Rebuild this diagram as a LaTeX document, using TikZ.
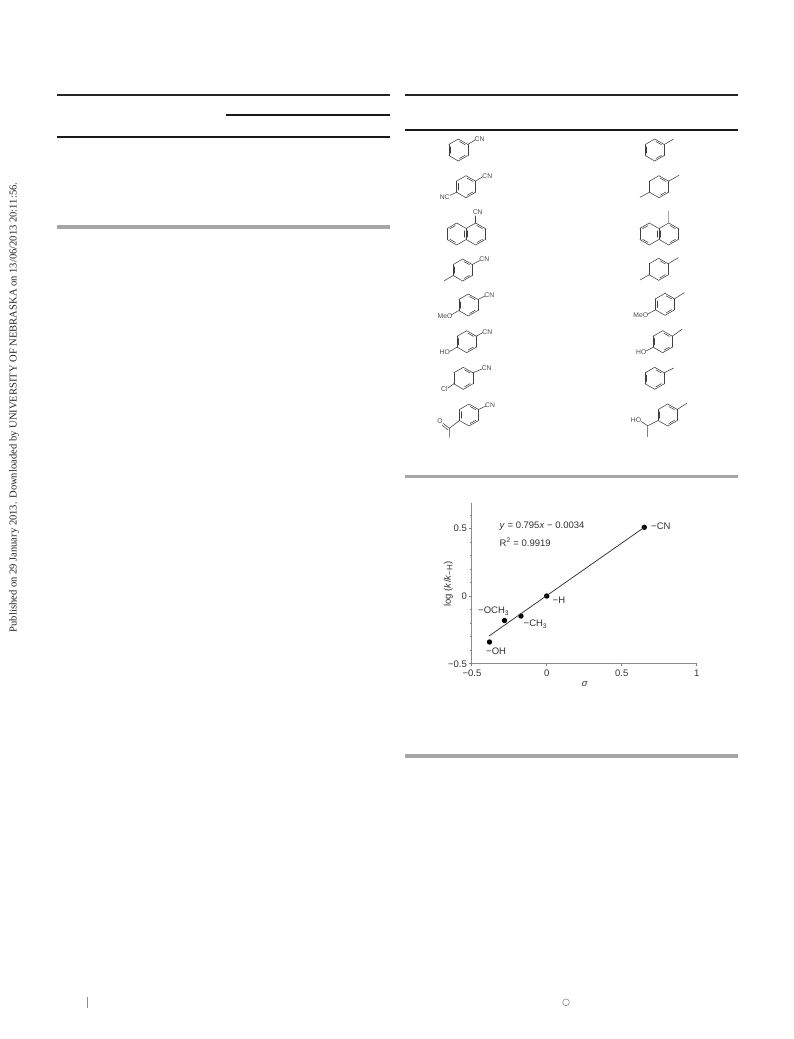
\documentclass[tikz,border=0pt]{standalone}
\usepackage{fontspec}
\setmainfont{Liberation Serif}
\setsansfont{Liberation Sans}
\tikzset{
  x=1pt,y=-1pt,
  rulethick/.style={line width=1.7pt,color=black!85},
  rulethin/.style={line width=2pt,color=black!90},
  rulegray/.style={line width=3.6pt,color=black!35},
  bond/.style={line width=0.55pt,color=black!75,line cap=round},
  chem/.style={font=\sffamily\fontsize{6.8}{7}\selectfont,color=black!70,inner sep=0pt},
  axisline/.style={line width=0.9pt,color=black!45},
  tickline/.style={line width=0.6pt,color=black!50},
  chartlabel/.style={font=\sffamily\fontsize{9.5}{10}\selectfont,color=black!80,inner sep=0pt},
  dot/.style={circle,fill=black,inner sep=0pt,minimum size=5.4pt},
}
% hexagon, pointy top, with the listed edges doubled
\newcommand{\hexring}[3]{%
  \foreach \a in {30,90,...,330}{
    \draw[bond] ({#1+11*cos(\a)},{#2-11*sin(\a)}) -- ({#1+11*cos(\a+60)},{#2-11*sin(\a+60)});
  }
  \foreach \a in {#3}{
    \draw[bond] ({#1+8.6*cos(\a+8)},{#2-8.6*sin(\a+8)}) -- ({#1+8.6*cos(\a+52)},{#2-8.6*sin(\a+52)});
  }
}
\begin{document}
\begin{tikzpicture}
\useasboundingbox (0,0) rectangle (793,1039);
\fill[white] (0,0) rectangle (793,1039);
% table rules
\draw[rulethick] (57,95) -- (390,95);
\draw[rulethin] (226,115.3) -- (390,115.3);
\draw[rulethin] (57,137.3) -- (390,137.3);
\draw[rulegray] (57,226.7) -- (390,226.7);
\draw[rulethick] (405,95) -- (738,95);
\draw[rulethin] (405,130) -- (738,130);
\draw[rulegray] (405,476.3) -- (738,476.3);
\draw[rulegray] (405,756) -- (738,756);
% margin text
\node[rotate=90,inner sep=0pt,font=\fontsize{10.58}{12}\selectfont,color=black!85] (margin) at (14,407.5)
  {Published on 29 January 2013. Downloaded by UNIVERSITY OF NEBRASKA on 13/06/2013 20:11:56.};
% footer marks
\draw[line width=0.8pt,color=black!45] (87.7,996.7) -- (87.7,1007.7);
\draw[line width=0.5pt,color=black!50] (566,1002.3) circle (3.4);
% left column
\hexring{458.3}{150}{30,150,270}
\draw[bond] (467.8,144.5) -- (475,140);
\node[chem] (c1) at (479.5,139.5) {CN};
\hexring{466}{186.7}{30,150,270}
\draw[bond] (475.5,181.2) -- (482.7,176.7);
\draw[bond] (456.5,192.2) -- (450,195.5);
\node[chem] (c2) at (487.3,175.7) {CN};
\node[chem] (c2b) at (444.7,197) {NC};
\hexring{456.7}{234}{90,210,330}
\hexring{475.7}{234}{30,150,270}
\draw[bond] (475.7,223) -- (475.7,216);
\node[chem] (c3) at (477.7,212.3) {CN};
\hexring{462.7}{270}{30,150,270}
\draw[bond] (472.2,264.5) -- (480,260.5);
\draw[bond] (453.2,275.5) -- (444.3,280.7);
\node[chem] (c4) at (484.3,258.7) {CN};
\hexring{468.3}{305}{30,150,270}
\draw[bond] (477.8,299.5) -- (485,296);
\draw[bond] (458.8,310.5) -- (451,315);
\node[chem] (c5) at (489.3,294.7) {CN};
\node[chem] (c5b) at (445,315.7) {MeO};
\hexring{466.7}{341.7}{30,150,270}
\draw[bond] (476.2,336.2) -- (483,332.5);
\draw[bond] (457.2,347.2) -- (449.5,351.5);
\node[chem] (c6) at (487.3,331.7) {CN};
\node[chem] (c6b) at (444.7,352.3) {HO};
\hexring{463.3}{378.3}{30,270}
\draw[bond] (472.8,372.8) -- (482,369);
\draw[bond] (453.8,383.8) -- (448,388);
\node[chem] (c7) at (486.7,368) {CN};
\node[chem] (c7b) at (444.3,389.3) {Cl};
\hexring{469}{415}{30,150,270}
\draw[bond] (478.5,409.5) -- (486,406);
\draw[bond] (459.5,420.5) -- (449.3,428.3) -- (449.3,437.3);
\draw[bond] (449.3,428.3) -- (443,423.3);
\draw[bond] (448,430) -- (442,425);
\node[chem] (c8) at (490,405) {CN};
\node[chem] (c8b) at (440,421.3) {O};
% right column
\hexring{654.7}{150}{30,150,270}
\draw[bond] (664.2,144.5) -- (673.3,139.3);
\hexring{659}{186.7}{30,270}
\draw[bond] (668.5,181.2) -- (679,175.3);
\draw[bond] (649.5,192.2) -- (640,197.3);
\hexring{649.3}{234}{90,210,330}
\hexring{668.7}{234}{30,150,270}
\draw[bond,color=black!35] (668.7,223) -- (668.7,211);
\hexring{658.7}{269.3}{30,270}
\draw[bond] (668.2,263.8) -- (678.3,257.7);
\draw[bond] (649.2,274.8) -- (640,280);
\hexring{665}{304.3}{30,150,270}
\draw[bond] (674.5,298.8) -- (684.3,292.7);
\draw[bond] (655.5,309.8) -- (647,314.5);
\node[chem] (d5) at (640.7,315.3) {MeO};
\hexring{662.7}{341.7}{30,150,270}
\draw[bond] (672.2,336.2) -- (682,329.3);
\draw[bond] (653.2,347.2) -- (646,351);
\node[chem] (d6) at (641.3,352) {HO};
\hexring{654.7}{378.3}{30,150,270}
\draw[bond] (664.2,372.8) -- (673.7,368);
\hexring{667.7}{415}{30,150,270}
\draw[bond] (677.2,409.5) -- (686.7,403.3);
\draw[bond] (658.2,420.5) -- (647.7,425.7) -- (647.7,436.7);
\draw[bond] (647.7,425.7) -- (641,421.5);
\node[chem] (d8) at (636,420) {HO};
% chart axes
\coordinate (org) at (471.7,663.3);
\coordinate (ytop) at (471.7,502.7);
\coordinate (xend) at (696.7,663.3);
\draw[axisline] (ytop) -- (org) -- (xend);
\foreach \i in {0,...,11}{
  \draw[tickline] (471.7,{663.3-13.5*\i}) -- (469.9,{663.3-13.5*\i});
}
\foreach \i in {0,5,10}{
  \draw[tickline] (471.7,{663.3-13.5*\i}) -- (468.7,{663.3-13.5*\i});
}
\foreach \i in {0,2,4,6}{
  \draw[tickline] ({471.7+37.5*\i},663.3) -- ({471.7+37.5*\i},666);
}
\node[chartlabel,anchor=east] (y1) at (467,528.5) {0.5};
\node[chartlabel,anchor=east] (y2) at (467,596) {0};
\node[chartlabel,anchor=east] (y3) at (467,664) {−0.5};
\node[chartlabel] (x1) at (472,673) {−0.5};
\node[chartlabel] (x2) at (546.7,673) {0};
\node[chartlabel] (x3) at (621.7,673) {0.5};
\node[chartlabel] (x4) at (696.7,673) {1};
\node[chartlabel] (xt) at (585,684) {\textit{σ}};
\node[chartlabel,rotate=90] (yt) at (448.5,584) {log (\textit{k}/\textit{k}\raisebox{-1.5pt}{\fontsize{8}{8}\selectfont −H})};
\node[chartlabel,anchor=west] (eq) at (499.5,526.5) {\textit{y} = 0.795\textit{x} − 0.0034};
\node[chartlabel,anchor=west] (r2) at (499.5,542.5) {R\textsuperscript{2} = 0.9919};
% fit line
\coordinate (fa) at (489,636);
\node[dot] (p1) at (644.3,527.3) {};
\node[dot] (p2) at (546.7,596) {};
\node[dot] (p3) at (521,616) {};
\node[dot] (p4) at (504.5,620.5) {};
\node[dot] (p5) at (489.5,642) {};
\draw[line width=0.75pt,color=black!80] (fa) -- (p1.center);
\node[chartlabel,anchor=west] (l1) at (651,526.5) {−CN};
\node[chartlabel,anchor=west] (l2) at (552.5,600) {−H};
\node[chartlabel,anchor=west] (l3) at (523.5,624) {−CH\textsubscript{3}};
\node[chartlabel,anchor=west] (l4) at (478,611) {−OCH\textsubscript{3}};
\node[chartlabel,anchor=west] (l5) at (486,651) {−OH};
\end{tikzpicture}
\end{document}
